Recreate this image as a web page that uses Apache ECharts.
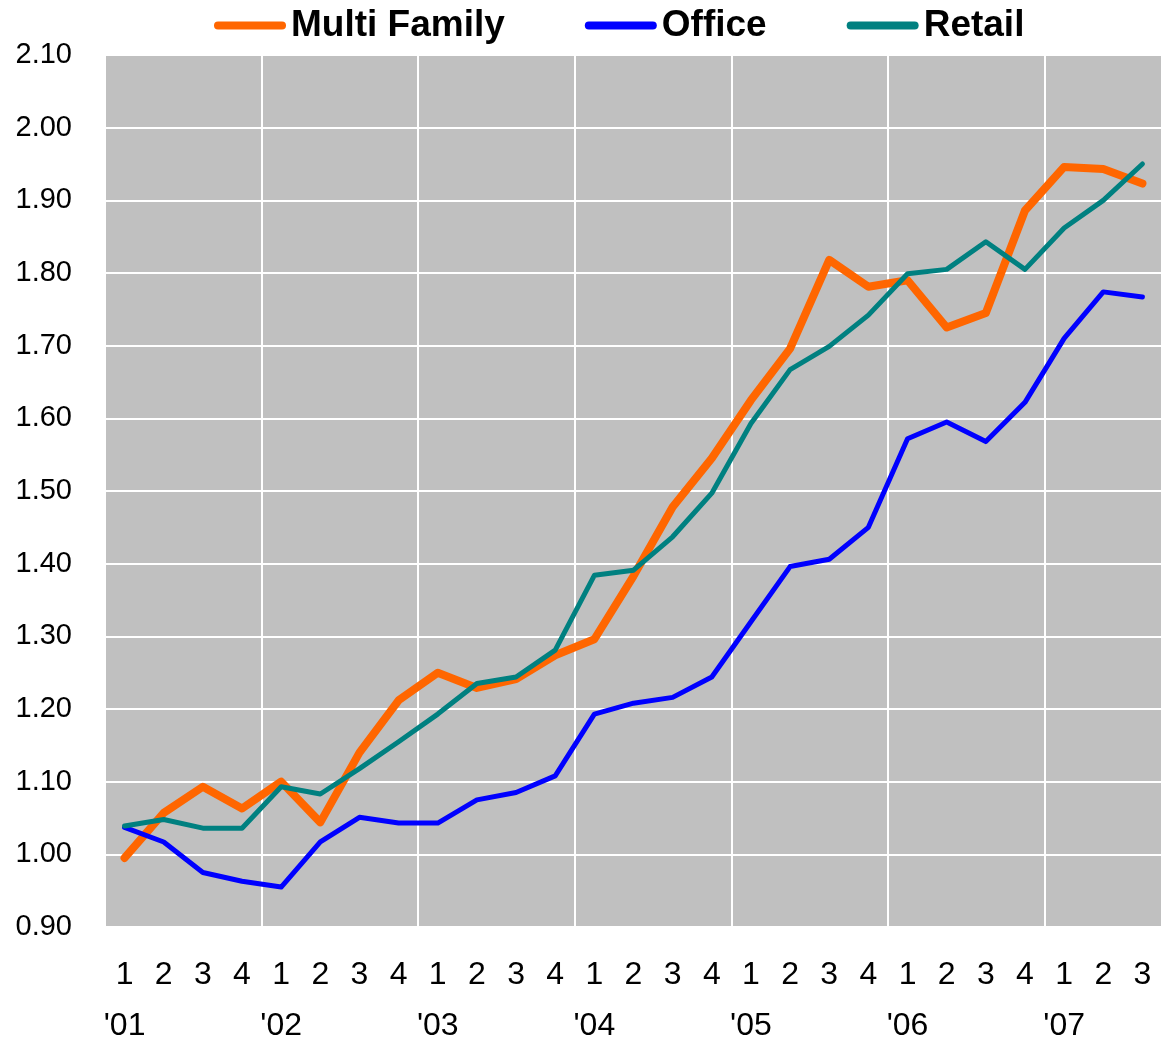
<!DOCTYPE html>
<html>
<head>
<meta charset="utf-8">
<script src="https://cdn.jsdelivr.net/npm/echarts@6/dist/echarts.min.js"></script>
<style>
  html, body { margin: 0; padding: 0; background: #fff; }
  #chart { width: 1162px; height: 1042px; }
</style>
</head>
<body>
<div id="chart"></div>
<script>
  // quarters 2001 Q1 .. 2007 Q3
  var quarters = ['1','2','3','4','1','2','3','4','1','2','3','4','1','2','3','4','1','2','3','4','1','2','3','4','1','2','3'];
  var years = ["'01", '', '', '', "'02", '', '', '', "'03", '', '', '', "'04", '', '', '', "'05", '', '', '', "'06", '', '', '', "'07", '', ''];

  var multiFamily = [0.995, 1.057, 1.093, 1.063, 1.100, 1.044, 1.140, 1.212, 1.250, 1.229, 1.241, 1.274, 1.296, 1.383, 1.478, 1.545, 1.625, 1.696, 1.818, 1.781, 1.790, 1.725, 1.745, 1.886, 1.946, 1.943, 1.923];
  var office = [1.037, 1.017, 0.975, 0.963, 0.955, 1.017, 1.051, 1.043, 1.043, 1.075, 1.085, 1.108, 1.193, 1.208, 1.216, 1.244, 1.320, 1.396, 1.406, 1.450, 1.572, 1.595, 1.568, 1.622, 1.710, 1.774, 1.767];
  var retail = [1.039, 1.048, 1.036, 1.036, 1.093, 1.083, 1.118, 1.155, 1.193, 1.235, 1.244, 1.281, 1.384, 1.391, 1.437, 1.497, 1.593, 1.667, 1.699, 1.742, 1.799, 1.805, 1.843, 1.805, 1.862, 1.900, 1.950];

  var categories = quarters.map(function (q, i) { return i; });

  var myChart = echarts.init(document.getElementById('chart'));

  function lineSeries(name, data, color, width) {
    return {
      name: name,
      type: 'line',
      data: data,
      symbol: 'none',
      smooth: false,
      lineStyle: { color: color, width: width, cap: 'round', join: 'round' },
      itemStyle: { color: color },
      emphasis: { disabled: true }
    };
  }

  var option = {
    animation: false,
    textStyle: { fontFamily: 'Liberation Sans, Arial, sans-serif' },
    legend: {
      top: 2,
      left: 209,
      itemGap: 80,
      itemWidth: 72,
      itemHeight: 8,
      icon: 'path://M4,0 H68 A4,4 0 0 1 68,8 H4 A4,4 0 0 1 4,0 Z',
      textStyle: { fontSize: 37, fontWeight: 'bold', color: '#000', fontFamily: 'Liberation Sans, Arial, sans-serif' },
      data: ['Multi Family', 'Office', 'Retail']
    },
    grid: {
      left: 105, right: 0, top: 55, bottom: 115,
      outerBoundsMode: 'none',
      containLabel: false,
      backgroundColor: '#C0C0C0', show: true, borderWidth: 0
    },
    xAxis: {
      type: 'category',
      data: categories,
      boundaryGap: true,
      axisLine: { show: false },
      axisTick: { show: false },
      splitLine: {
        show: true,
        interval: function (idx) { return idx % 4 === 0; },
        lineStyle: { color: '#ffffff', width: 2 }
      },
      axisLabel: {
        interval: 0,
        margin: 23,
        formatter: function (v, i) {
          return '{q|' + quarters[i] + '}\n{y|' + (years[i] || ' ') + '}';
        },
        rich: {
          q: { fontSize: 32, lineHeight: 51, color: '#000', fontFamily: 'Liberation Sans, Arial, sans-serif' },
          y: { fontSize: 32, lineHeight: 51, color: '#000', fontFamily: 'Liberation Sans, Arial, sans-serif' }
        }
      }
    },
    yAxis: {
      type: 'value',
      min: 0.9,
      max: 2.1,
      interval: 0.1,
      axisLine: { show: false },
      axisTick: { show: false },
      splitLine: { show: true, lineStyle: { color: '#ffffff', width: 2 } },
      axisLabel: {
        margin: 33,
        fontSize: 29,
        color: '#000',
        formatter: function (v) { return v.toFixed(2); }
      }
    },
    series: [
      lineSeries('Multi Family', multiFamily, '#FF6600', 8),
      lineSeries('Office', office, '#0000FF', 5),
      lineSeries('Retail', retail, '#008080', 5)
    ]
  };

  myChart.setOption(option);
</script>
</body>
</html>
